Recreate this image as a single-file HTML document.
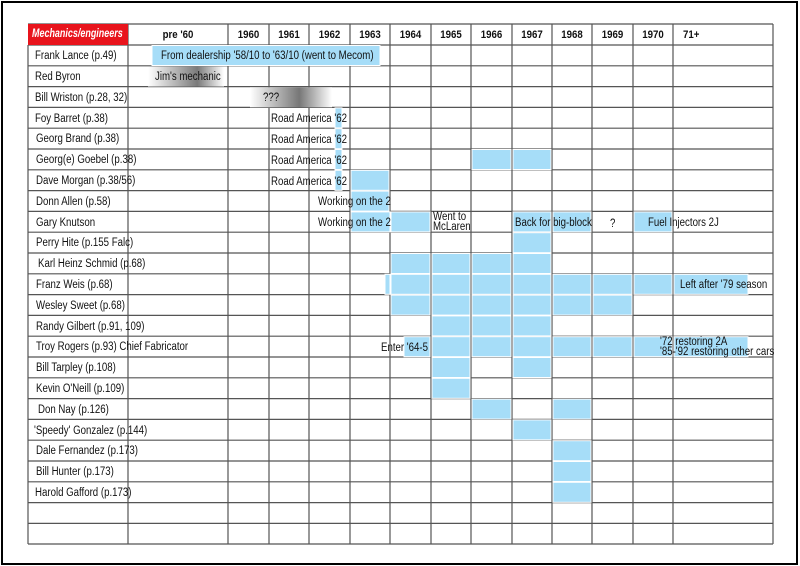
<!DOCTYPE html>
<html><head><meta charset="utf-8"><style>
html,body{margin:0;padding:0;background:#fff;}
#w{position:relative;width:800px;height:566px;overflow:hidden;}
.t{position:absolute;font-family:"Liberation Sans",sans-serif;font-size:11.5px;line-height:12px;color:#111;white-space:nowrap;transform:scaleX(0.84);transform-origin:0 0;}
.h{position:absolute;font-family:"Liberation Sans",sans-serif;font-size:11px;font-weight:bold;line-height:12px;color:#111;white-space:nowrap;transform:scaleX(0.88);transform-origin:50% 0;text-align:center;}
</style></head><body><div id="w">
<svg width="800" height="566" style="position:absolute;left:0;top:0">
<defs>
<linearGradient id="g1" x1="0" x2="1" y1="0" y2="0"><stop offset="0" stop-color="#fff"/><stop offset="0.65" stop-color="#7a7a7a"/><stop offset="1" stop-color="#fff"/></linearGradient>
<linearGradient id="g2" x1="0" x2="1" y1="0" y2="0"><stop offset="0" stop-color="#fff"/><stop offset="0.6" stop-color="#777"/><stop offset="1" stop-color="#fff"/></linearGradient>
</defs>
<rect x="2" y="2" width="795" height="562" fill="none" stroke="#000" stroke-width="2"/>
<g stroke="#555" stroke-width="1.2">
<line x1="28" y1="24" x2="773" y2="24"/>
<line x1="28" y1="45" x2="773" y2="45"/><line x1="28" y1="65.8" x2="773" y2="65.8"/><line x1="28" y1="86.6" x2="773" y2="86.6"/><line x1="28" y1="107.4" x2="773" y2="107.4"/><line x1="28" y1="128.2" x2="773" y2="128.2"/><line x1="28" y1="149" x2="773" y2="149"/><line x1="28" y1="169.8" x2="773" y2="169.8"/><line x1="28" y1="190.6" x2="773" y2="190.6"/><line x1="28" y1="211.4" x2="773" y2="211.4"/><line x1="28" y1="232.2" x2="773" y2="232.2"/><line x1="28" y1="253" x2="773" y2="253"/><line x1="28" y1="273.8" x2="773" y2="273.8"/><line x1="28" y1="294.6" x2="773" y2="294.6"/><line x1="28" y1="315.4" x2="773" y2="315.4"/><line x1="28" y1="336.2" x2="773" y2="336.2"/><line x1="28" y1="357" x2="773" y2="357"/><line x1="28" y1="377.8" x2="773" y2="377.8"/><line x1="28" y1="398.6" x2="773" y2="398.6"/><line x1="28" y1="419.4" x2="773" y2="419.4"/><line x1="28" y1="440.2" x2="773" y2="440.2"/><line x1="28" y1="461" x2="773" y2="461"/><line x1="28" y1="481.8" x2="773" y2="481.8"/><line x1="28" y1="502.6" x2="773" y2="502.6"/><line x1="28" y1="523.4" x2="773" y2="523.4"/><line x1="28" y1="544" x2="773" y2="544"/>
<line x1="28" y1="45" x2="28" y2="544"/><line x1="128" y1="24" x2="128" y2="544"/><line x1="228" y1="24" x2="228" y2="544"/><line x1="269" y1="24" x2="269" y2="544"/><line x1="309" y1="24" x2="309" y2="544"/><line x1="350" y1="24" x2="350" y2="544"/><line x1="390" y1="24" x2="390" y2="544"/><line x1="431" y1="24" x2="431" y2="544"/><line x1="471" y1="24" x2="471" y2="544"/><line x1="512" y1="24" x2="512" y2="544"/><line x1="552" y1="24" x2="552" y2="544"/><line x1="592" y1="24" x2="592" y2="544"/><line x1="633" y1="24" x2="633" y2="544"/><line x1="673" y1="24" x2="673" y2="544"/><line x1="773" y1="24" x2="773" y2="544"/>
</g>
<rect x="28" y="24" width="100" height="21" fill="#e8141c"/>
<g fill="#a6ddf8" stroke="#fff" stroke-width="1">
<rect x="152" y="45.5" width="228" height="20"/>
<rect x="335" y="107.9" width="7" height="20"/><rect x="335" y="128.7" width="7" height="20"/><rect x="335" y="149.5" width="7" height="20"/><rect x="335" y="170.3" width="7" height="20"/>
<rect x="472" y="149.5" width="39" height="20"/><rect x="513" y="149.5" width="38" height="20"/>
<rect x="351" y="170.3" width="38" height="20"/>
<rect x="351" y="191.1" width="38" height="20"/>
<rect x="351" y="211.9" width="39" height="20"/><rect x="391" y="211.9" width="39" height="20"/><rect x="513" y="211.9" width="38" height="20"/><rect x="553" y="211.9" width="38" height="20"/><rect x="634" y="211.9" width="38" height="20"/>
<rect x="513" y="232.7" width="38" height="20"/>
<rect x="391" y="253.5" width="39" height="20"/><rect x="432" y="253.5" width="38" height="20"/><rect x="472" y="253.5" width="39" height="20"/><rect x="513" y="253.5" width="38" height="20"/>
<rect x="385" y="274.3" width="5" height="20"/><rect x="391" y="274.3" width="39" height="20"/><rect x="432" y="274.3" width="38" height="20"/><rect x="472" y="274.3" width="39" height="20"/><rect x="513" y="274.3" width="38" height="20"/><rect x="553" y="274.3" width="38" height="20"/><rect x="593" y="274.3" width="39" height="20"/><rect x="634" y="274.3" width="38" height="20"/><rect x="674" y="274.3" width="74" height="20"/>
<rect x="391" y="295.1" width="39" height="20"/><rect x="432" y="295.1" width="38" height="20"/><rect x="472" y="295.1" width="39" height="20"/><rect x="513" y="295.1" width="38" height="20"/><rect x="553" y="295.1" width="38" height="20"/><rect x="593" y="295.1" width="39" height="20"/>
<rect x="432" y="315.9" width="38" height="20"/><rect x="472" y="315.9" width="39" height="20"/><rect x="513" y="315.9" width="38" height="20"/>
<rect x="404" y="336.7" width="26" height="20"/><rect x="432" y="336.7" width="38" height="20"/><rect x="472" y="336.7" width="39" height="20"/><rect x="513" y="336.7" width="38" height="20"/><rect x="553" y="336.7" width="38" height="20"/><rect x="593" y="336.7" width="39" height="20"/><rect x="634" y="336.7" width="38" height="20"/><rect x="674" y="336.7" width="74" height="20"/>
<rect x="432" y="357.5" width="38" height="20"/><rect x="513" y="357.5" width="38" height="20"/>
<rect x="432" y="378.3" width="38" height="20"/>
<rect x="472" y="399.1" width="39" height="20"/><rect x="553" y="399.1" width="38" height="20"/>
<rect x="513" y="419.9" width="38" height="20"/>
<rect x="553" y="440.7" width="38" height="20"/><rect x="553" y="461.5" width="38" height="20"/><rect x="553" y="482.3" width="38" height="20"/>
</g>
<rect x="148" y="66.5" width="76" height="20" fill="url(#g1)"/>
<rect x="250" y="87.3" width="82" height="20" fill="url(#g2)"/>
</svg>
<div class="t" style="left:32px;top:28px;color:#fff;font-weight:bold;font-style:italic;font-size:11.5px;transform:scaleX(0.78)">Mechanics/engineers</div>
<div class="h" style="left:128px;width:100px;top:29px">pre '60</div>
<div class="h" style="left:228px;width:41px;top:29px">1960</div>
<div class="h" style="left:269px;width:40px;top:29px">1961</div>
<div class="h" style="left:309px;width:41px;top:29px">1962</div>
<div class="h" style="left:350px;width:40px;top:29px">1963</div>
<div class="h" style="left:390px;width:41px;top:29px">1964</div>
<div class="h" style="left:431px;width:40px;top:29px">1965</div>
<div class="h" style="left:471px;width:41px;top:29px">1966</div>
<div class="h" style="left:512px;width:40px;top:29px">1967</div>
<div class="h" style="left:552px;width:40px;top:29px">1968</div>
<div class="h" style="left:592px;width:41px;top:29px">1969</div>
<div class="h" style="left:633px;width:40px;top:29px">1970</div>
<div class="h" style="left:683px;top:29px;transform-origin:0 0">71+</div>

<div class="t" style="left:35px;top:50px">Frank Lance (p.49)</div>
<div class="t" style="left:35px;top:71px">Red Byron</div>
<div class="t" style="left:35px;top:92px">Bill Wriston (p.28, 32)</div>
<div class="t" style="left:35px;top:113px">Foy Barret (p.38)</div>
<div class="t" style="left:36px;top:133px">Georg Brand (p.38)</div>
<div class="t" style="left:36px;top:154px">Georg(e) Goebel (p.38)</div>
<div class="t" style="left:36px;top:175px">Dave Morgan (p.38/56)</div>
<div class="t" style="left:36px;top:196px">Donn Allen (p.58)</div>
<div class="t" style="left:36px;top:217px">Gary Knutson</div>
<div class="t" style="left:36px;top:237px">Perry Hite (p.155 Falc)</div>
<div class="t" style="left:38px;top:258px">Karl Heinz Schmid (p.68)</div>
<div class="t" style="left:36px;top:279px">Franz Weis (p.68)</div>
<div class="t" style="left:36px;top:300px">Wesley Sweet (p.68)</div>
<div class="t" style="left:36px;top:321px">Randy Gilbert (p.91, 109)</div>
<div class="t" style="left:36px;top:341px">Troy Rogers (p.93) Chief Fabricator</div>
<div class="t" style="left:36px;top:362px">Bill Tarpley (p.108)</div>
<div class="t" style="left:36px;top:383px">Kevin O'Neill (p.109)</div>
<div class="t" style="left:38px;top:404px">Don Nay (p.126)</div>
<div class="t" style="left:34px;top:425px">'Speedy' Gonzalez (p.144)</div>
<div class="t" style="left:36px;top:445px">Dale Fernandez (p.173)</div>
<div class="t" style="left:36px;top:466px">Bill Hunter (p.173)</div>
<div class="t" style="left:35px;top:487px">Harold Gafford (p.173)</div>

<div class="t" style="left:161px;top:50px">From dealership '58/10 to '63/10 (went to Mecom)</div>
<div class="t" style="left:155px;top:71px">Jim's mechanic</div>
<div class="t" style="left:263px;top:92px">???</div>
<div class="t" style="left:271px;top:113px">Road America '62</div>
<div class="t" style="left:271px;top:134px">Road America '62</div>
<div class="t" style="left:271px;top:155px">Road America '62</div>
<div class="t" style="left:271px;top:176px">Road America '62</div>
<div class="t" style="left:318px;top:196px">Working on the 2</div>
<div class="t" style="left:318px;top:217px">Working on the 2</div>
<div class="t" style="left:433px;top:212px;line-height:10px">Went to<br>McLaren</div>
<div class="t" style="left:515px;top:217px">Back for big-block</div>
<div class="t" style="left:610px;top:218px">?</div>
<div class="t" style="left:648px;top:217px">Fuel Injectors 2J</div>
<div class="t" style="left:680px;top:279px">Left after '79 season</div>
<div class="t" style="left:381px;top:342px">Enter '64-5</div>
<div class="t" style="left:660px;top:337px;line-height:10px">'72 restoring 2A<br>'85-'92 restoring other cars</div>
</div></body></html>
